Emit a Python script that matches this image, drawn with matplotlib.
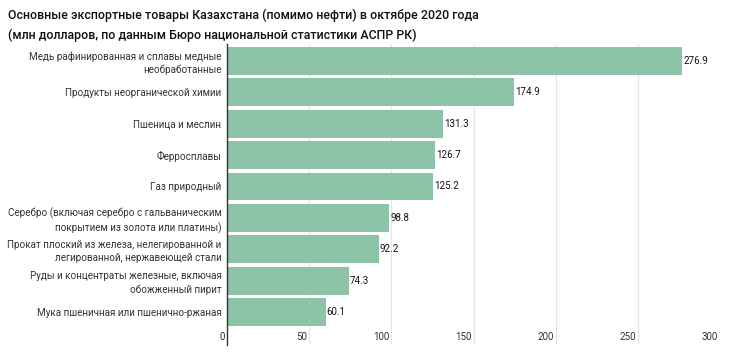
import matplotlib.pyplot as plt

plt.rcParams['font.family'] = ['Roboto', 'DejaVu Sans']

categories = [
    'Медь рафинированная и сплавы медные\nнеобработанные',
    'Продукты неорганической химии',
    'Пшеница и меслин',
    'Ферросплавы',
    'Газ природный',
    'Серебро (включая серебро с гальваническим\nпокрытием из золота или платины)',
    'Прокат плоский из железа, нелегированной и\nлегированной, нержавеющей стали',
    'Руды и концентраты железные, включая\nобожженный пирит',
    'Мука пшеничная или пшенично-ржаная',
]
values = [276.9, 174.9, 131.3, 126.7, 125.2, 98.8, 92.2, 74.3, 60.1]
xticks = [0, 50, 100, 150, 200, 250, 300]

W, H = 730, 352
fig = plt.figure(figsize=(W / 100, H / 100), dpi=100)
ax = fig.add_axes([227 / W, 1 - 345 / H, (720 - 227) / W, (345 - 44) / H])

pos = list(range(len(values)))
ax.barh(pos, values, height=0.89, color='#8dc4a8', zorder=2)
ax.set_xlim(0, 300)
ax.set_ylim(9.05, -0.54)

for x in xticks:
    if x > 0:
        ax.axvline(x, color='#e6e6e6', lw=0.9, zorder=1)
    ax.text(x - 1.2, 8.8, str(x), ha='right', va='center', fontsize=7, color='#333333')

for p, v in zip(pos, values):
    ax.text(v + 0.6, p, f'{v:.1f}', ha='left', va='center', fontsize=7, color='#111111')

ax.set_yticks(pos)
ax.set_yticklabels(categories, fontsize=7.1, color='#333333', linespacing=1.35)
ax.tick_params(axis='y', length=0, pad=4)
ax.set_xticks([])
for s in ['top', 'right', 'bottom']:
    ax.spines[s].set_visible(False)
ax.spines['left'].set_color('#333333')
ax.spines['left'].set_linewidth(1)

fig.text(8 / W, 1 - 15 / H, 'Основные экспортные товары Казахстана (помимо нефти) в октябре 2020 года',
         fontsize=8.9, fontweight='medium', va='center', ha='left', color='#111111')
fig.text(8 / W, 1 - 35 / H, '(млн долларов, по данным Бюро национальной статистики АСПР РК)',
         fontsize=8.9, fontweight='medium', va='center', ha='left', color='#111111')

fig.savefig('out.png', dpi=100)
